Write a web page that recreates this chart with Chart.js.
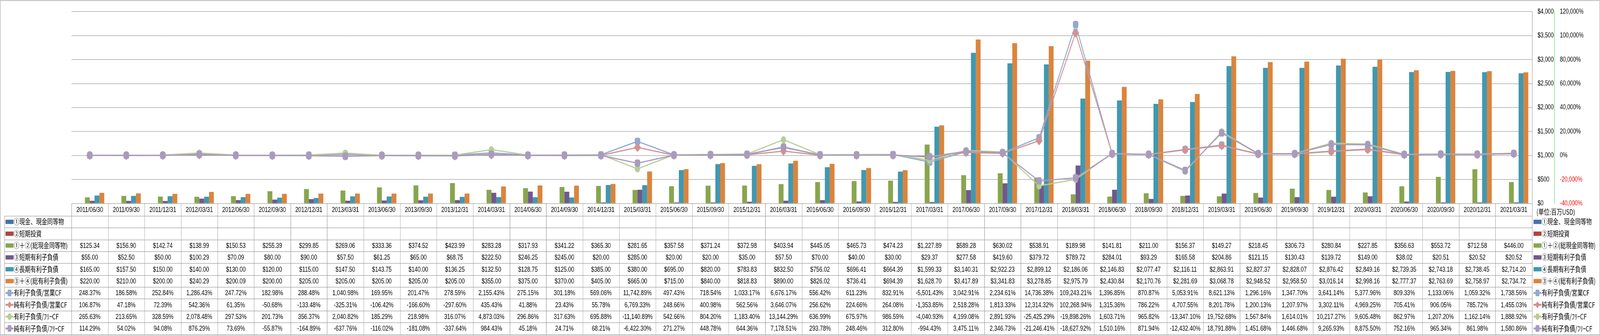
<!DOCTYPE html>
<html>
  <head>
    <meta charset="utf-8">
    <script src="https://cdn.jsdelivr.net/npm/chart.js"></script>
    <style>
      html, body { margin: 0; padding: 0; overflow: hidden; background: #fff; }
      canvas { display: block; }
    </style>
  </head>
  <body>
    <canvas id="chart" width="5461" height="858" style="width: 100vw; height: 100vh;"></canvas>

    <script>
      const dates = [
        "2011/06/30", "2011/09/30", "2011/12/31", "2012/03/31", "2012/06/30", "2012/09/30", "2012/12/31", "2013/03/31",
        "2013/06/30", "2013/09/30", "2013/12/31", "2014/03/31", "2014/06/30", "2014/09/30", "2014/12/31", "2015/03/31",
        "2015/06/30", "2015/09/30", "2015/12/31", "2016/03/31", "2016/06/30", "2016/09/30", "2016/12/31", "2017/03/31",
        "2017/06/30", "2017/09/30", "2017/12/31", "2018/03/31", "2018/06/30", "2018/09/30", "2018/12/31", "2019/03/31",
        "2019/06/30", "2019/09/30", "2019/12/31", "2020/03/31", "2020/06/30", "2020/09/30", "2020/12/31", "2021/03/31"
      ];

      // ① and ② have no values in the table
      const cashEquiv = [];
      const shortInvest = [];
      const cashTotal = [
        125.34, 156.90, 142.74, 138.99, 150.53, 255.39, 299.85, 269.06, 333.36, 374.52,
        423.99, 283.28, 317.93, 341.22, 365.30, 281.65, 357.58, 371.24, 372.98, 403.94,
        445.05, 465.73, 474.23, 1227.89, 589.28, 630.02, 538.91, 189.98, 141.81, 211.00,
        156.37, 149.27, 218.45, 306.73, 280.84, 227.85, 356.63, 553.72, 712.58, 446.00
      ];
      const shortDebt = [
        55.00, 52.50, 50.00, 100.29, 70.09, 80.00, 90.00, 57.50, 61.25, 65.00,
        68.75, 222.50, 246.25, 245.00, 20.00, 285.00, 20.00, 20.00, 35.00, 57.50,
        70.00, 40.00, 30.00, 29.37, 277.58, 419.60, 379.72, 789.72, 284.01, 93.29,
        165.58, 204.86, 121.15, 130.43, 139.72, 149.00, 38.02, 20.51, 20.52, 20.52
      ];
      const longDebt = [
        165.00, 157.50, 150.00, 140.00, 130.00, 120.00, 115.00, 147.50, 143.75, 140.00,
        136.25, 132.50, 128.75, 125.00, 385.00, 380.00, 695.00, 820.00, 783.83, 832.50,
        756.02, 696.41, 664.39, 1599.33, 3140.31, 2922.23, 2899.12, 2186.06, 2146.83, 2077.47,
        2116.11, 2863.91, 2827.37, 2828.07, 2876.42, 2849.16, 2739.35, 2743.18, 2738.45, 2714.20
      ];
      const totalDebt = [
        220.00, 210.00, 200.00, 240.29, 200.09, 200.00, 205.00, 205.00, 205.00, 205.00,
        205.00, 355.00, 375.00, 370.00, 405.00, 665.00, 715.00, 840.00, 818.83, 890.00,
        826.02, 736.41, 694.39, 1628.70, 3417.89, 3341.83, 3278.85, 2975.79, 2430.84, 2170.76,
        2281.69, 3068.78, 2948.52, 2958.50, 3016.14, 2998.16, 2777.37, 2763.69, 2758.97, 2734.72
      ];
      const debtOpCF = [
        248.37, 186.58, 252.84, 1286.43, 247.72, 182.98, 288.48, 1040.98, 169.95, 201.47,
        278.59, 2155.43, 275.15, 301.18, 569.06, 11742.89, 497.43, 718.54, 1033.17, 6676.17,
        556.42, 611.23, 832.91, -5501.43, 3042.91, 2234.61, 14736.38, 109243.21, 1396.85, 870.87,
        5053.91, 8621.13, 1296.16, 1347.70, 3641.14, 5377.96, 809.33, 1133.06, 1059.32, 1738.56
      ];
      const netDebtOpCF = [
        106.87, 47.18, 72.39, 542.36, 61.35, -50.68, -133.48, -325.31, -106.42, -166.60,
        -297.60, 435.43, 41.88, 23.43, 55.78, 6769.33, 248.66, 400.98, 562.56, 3646.07,
        256.62, 224.66, 264.08, -1353.85, 2518.28, 1813.33, 12314.32, 102268.94, 1315.36, 786.22,
        4707.55, 8201.78, 1200.13, 1207.97, 3302.11, 4969.25, 705.41, 906.05, 785.72, 1455.03
      ];
      const debtFCF = [
        265.63, 213.65, 328.59, 2078.48, 297.53, 201.73, 356.37, 2040.82, 185.29, 218.98,
        316.07, 4873.03, 296.86, 317.63, 695.88, -11140.89, 542.66, 804.20, 1183.40, 13144.29,
        636.99, 675.97, 986.59, -4040.93, 4199.08, 2891.93, -25425.29, -19898.26, 1603.71, 965.82,
        -13347.10, 19752.68, 1567.84, 1614.01, 10217.27, 9605.48, 862.97, 1207.20, 1162.14, 1888.92
      ];
      const netDebtFCF = [
        114.29, 54.02, 94.08, 876.29, 73.69, -55.87, -164.89, -637.76, -116.02, -181.08,
        -337.64, 984.43, 45.18, 24.71, 68.21, -6422.30, 271.27, 448.78, 644.36, 7178.51,
        293.78, 248.46, 312.80, -994.43, 3475.11, 2346.73, -21246.41, -18627.92, 1510.16, 871.94,
        -12432.40, 18791.88, 1451.68, 1446.68, 9265.93, 8875.50, 752.16, 965.34, 861.98, 1580.86
      ];

      const seriesNames = [
        "①現金、現金同等物", "②短期投資", "①＋②(総現金同等物)", "③短期有利子負債", "④長期有利子負債",
        "③＋④(総有利子負債)", "有利子負債/営業CF", "純有利子負債/営業CF", "有利子負債/ﾌﾘｰCF", "純有利子負債/ﾌﾘｰCF"
      ];
      const unitLabel = "(単位:百万USD)";

      const barColors = ["#4572A7", "#AA4643", "#89A54E", "#71588F", "#4198AF", "#DB843D"];
      const lineColors = ["#93A9CF", "#D19392", "#B9CD96", "#A99BBD"];
      const lineMarkers = [["rectRounded", 11], ["rectRot", 12], ["circle", 9], ["rectRounded", 11]];

      const gridColor = "#868686";
      const numFont = '18.5px "Liberation Sans", Arial, sans-serif';
      const jpFont = '19px "Noto Sans CJK JP", sans-serif';

      function fmtMoney(v) {
        return "$" + v.toLocaleString("en-US", { minimumFractionDigits: 2, maximumFractionDigits: 2 });
      }
      function fmtPct(v) {
        return v.toLocaleString("en-US", { minimumFractionDigits: 2, maximumFractionDigits: 2 }) + "%";
      }

      const barData = [cashEquiv, shortInvest, cashTotal, shortDebt, longDebt, totalDebt];
      const lineData = [debtOpCF, netDebtOpCF, debtFCF, netDebtFCF];

      const datasets = [];
      barData.forEach((d, i) => {
        datasets.push({
          type: "bar",
          label: seriesNames[i],
          data: d,
          backgroundColor: barColors[i],
          yAxisID: "y",
          order: 10,
          barPercentage: 1,
          categoryPercentage: 0.795
        });
      });
      lineData.forEach((d, i) => {
        datasets.push({
          type: "line",
          label: seriesNames[6 + i],
          data: d,
          borderColor: lineColors[i],
          backgroundColor: lineColors[i],
          borderWidth: 3,
          pointStyle: lineMarkers[i][0],
          pointRadius: lineMarkers[i][1],
          pointBackgroundColor: lineColors[i],
          pointBorderWidth: 0,
          tension: 0,
          yAxisID: "y1",
          order: 4 - i
        });
      });

      // table rows (same order as the series)
      const rows = seriesNames.map((name, i) => ({
        label: name,
        kind: i < 6 ? "bar" : "line",
        color: i < 6 ? barColors[i] : lineColors[i - 6],
        marker: i < 6 ? null : lineMarkers[i - 6][0],
        data: i < 6 ? barData[i] : lineData[i - 6],
        fmt: i < 6 ? fmtMoney : fmtPct
      }));

      function drawKey(ctx, row, x, y) {
        ctx.fillStyle = row.color;
        if (row.kind === "bar") {
          ctx.fillRect(x, y - 5.5, 27, 11);
          return;
        }
        ctx.fillRect(x, y - 2.5, 27, 5);
        const cx = x + 13.5;
        ctx.beginPath();
        if (row.marker === "rectRot") {
          ctx.moveTo(cx, y - 9); ctx.lineTo(cx + 8, y); ctx.lineTo(cx, y + 9); ctx.lineTo(cx - 8, y);
          ctx.closePath();
        } else if (row.marker === "circle") {
          ctx.ellipse(cx, y, 7, 8.5, 0, 0, Math.PI * 2);
        } else {
          ctx.roundRect(cx - 6.5, y - 8.5, 13, 17, 3);
        }
        ctx.fill();
      }

      const tablePlugin = {
        id: "dataTable",
        afterDraw(chart) {
          const ctx = chart.ctx;
          const xs = chart.scales.x;
          const area = chart.chartArea;
          const colW = (xs.right - xs.left) / dates.length;
          const top = Math.round(area.bottom);
          const headerBottom = top + 32;
          const rowH = 30.35;
          const tableBottom = headerBottom + rowH * rows.length;
          const labelLeft = 15;

          ctx.save();
          // outer frame
          ctx.strokeStyle = gridColor;
          ctx.lineWidth = 1;
          ctx.strokeRect(0.5, 1.5, chart.width - 1.5, chart.height - 2);

          ctx.beginPath();
          ctx.moveTo(xs.left, top + 0.5);
          ctx.lineTo(xs.right, top + 0.5);
          for (let k = 0; k <= rows.length; k++) {
            const y = Math.round(headerBottom + k * rowH) + 0.5;
            ctx.moveTo(labelLeft, y);
            ctx.lineTo(xs.right, y);
          }
          for (let i = 0; i <= dates.length; i++) {
            const x = Math.round(xs.left + i * colW) + 0.5;
            ctx.moveTo(x, top);
            ctx.lineTo(x, tableBottom);
          }
          ctx.moveTo(labelLeft + 0.5, headerBottom);
          ctx.lineTo(labelLeft + 0.5, tableBottom);
          ctx.stroke();

          ctx.textBaseline = "middle";
          ctx.fillStyle = "#000";

          // header dates
          ctx.font = numFont;
          ctx.textAlign = "center";
          dates.forEach((d, i) => {
            ctx.fillText(d, xs.getPixelForValue(i), (top + headerBottom) / 2 + 1);
          });

          // rows
          rows.forEach((row, r) => {
            const cy = headerBottom + rowH * (r + 0.5);
            drawKey(ctx, row, 19, cy);
            ctx.fillStyle = "#000";
            ctx.font = jpFont;
            ctx.textAlign = "left";
            ctx.fillText(row.label, 47, cy);
            ctx.font = numFont;
            ctx.textAlign = "center";
            row.data.forEach((v, i) => {
              if (v === null || v === undefined) return;
              ctx.fillText(row.fmt(v), xs.getPixelForValue(i), cy + 1);
            });

            // legend on the right
            drawKey(ctx, row, 5234, cy);
            ctx.fillStyle = "#000";
            ctx.font = jpFont;
            ctx.textAlign = "left";
            ctx.fillText(row.label, 5262, cy);
          });

          ctx.font = jpFont;
          ctx.textAlign = "left";
          ctx.fillText(unitLabel, 5244, top + 22);
          ctx.restore();
        }
      };

      const axisFont = { family: '"Liberation Sans", Arial, sans-serif', size: 18 };

      new Chart(document.getElementById("chart").getContext("2d"), {
        type: "bar",
        data: { labels: dates, datasets: datasets },
        options: {
          responsive: false,
          animation: false,
          devicePixelRatio: 1,
          layout: { padding: { left: 244, top: 13, right: 0, bottom: 337 } },
          plugins: { legend: { display: false }, tooltip: { enabled: false } },
          scales: {
            x: { display: false, offset: true },
            y: {
              position: "right",
              min: 0,
              max: 4000,
              ticks: {
                stepSize: 500,
                padding: 19,
                color: "#000",
                font: axisFont,
                callback: (v) => "$" + v.toLocaleString("en-US")
              },
              grid: { color: gridColor, drawTicks: false },
              border: { color: gridColor },
              afterFit(scale) { scale.width = 76; }
            },
            y1: {
              position: "right",
              min: -40000,
              max: 120000,
              ticks: {
                stepSize: 20000,
                padding: 19,
                font: axisFont,
                color: (c) => (c.tick && c.tick.value < 0 ? "#ff0000" : "#000"),
                callback: (v) => v.toLocaleString("en-US") + "%"
              },
              grid: { drawOnChartArea: false, drawTicks: false },
              border: { color: "#22dd22", dash: [4, 3], width: 1 },
              afterFit(scale) { scale.width = 156; }
            }
          }
        },
        plugins: [tablePlugin]
      });
    </script>
  </body>
</html>
